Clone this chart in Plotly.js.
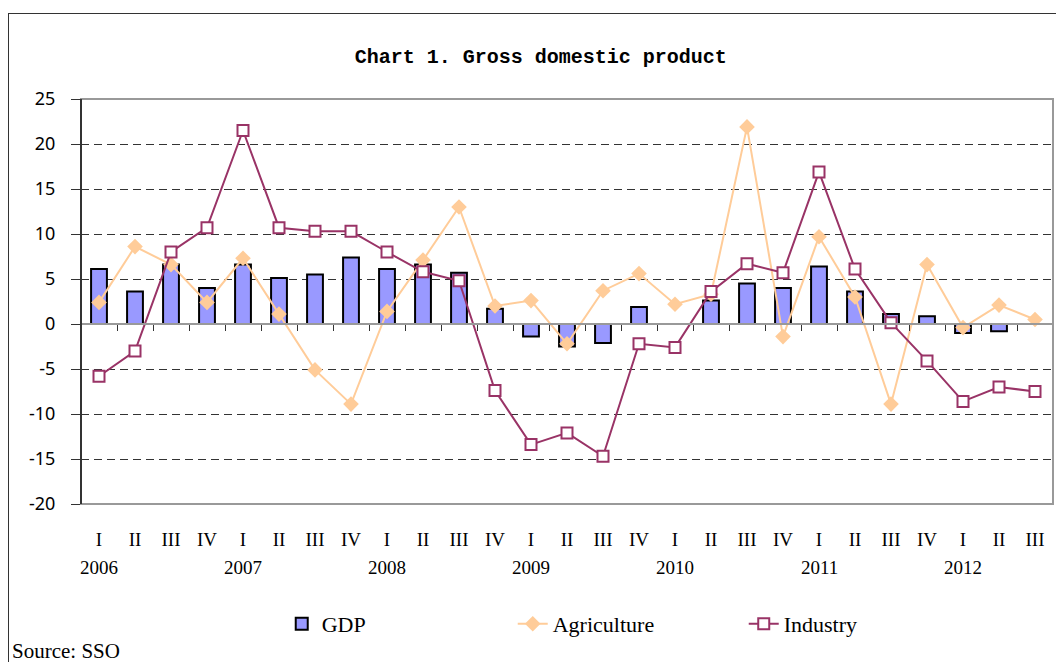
<!DOCTYPE html>
<html>
<head>
<meta charset="utf-8">
<script src="https://cdn.plot.ly/plotly-3.0.1.min.js"></script>
<style>
html,body{margin:0;padding:0;background:#fff;overflow:hidden;}
#chart{position:absolute;left:0;top:0;width:1056px;height:662px;}
#frame{position:absolute;left:8px;top:13px;width:1100px;height:700px;border:1px solid #333;box-sizing:border-box;pointer-events:none;}
</style>
</head>
<body>
<div id="chart"></div>
<div id="frame"></div>
<script>
const quarters = ["I","II","III","IV","I","II","III","IV","I","II","III","IV","I","II","III","IV","I","II","III","IV","I","II","III","IV","I","II","III"];
const years = ["2006","2007","2008","2009","2010","2011","2012"];
const yTickValues = [-20,-15,-10,-5,0,5,10,15,20,25];
const yTickLabels = ["-20","-15","-10","-5","0","5","10","15","20","25"];
const gdp = [6.1,3.6,6.6,4.0,6.6,5.1,5.5,7.4,6.1,6.6,5.7,1.7,-1.4,-2.5,-2.1,1.9,null,2.6,4.5,4.0,6.4,3.6,1.1,0.85,-1.0,-0.8,null];
const agriculture = [2.4,8.6,6.6,2.4,7.3,1.1,-5.1,-8.9,1.4,7.1,13.0,2.0,2.6,-2.2,3.7,5.6,2.2,3.3,21.9,-1.4,9.7,3.0,-8.9,6.6,-0.4,2.1,0.5];
const industry = [-5.8,-3.0,8.0,10.7,21.5,10.7,10.3,10.3,8.0,5.8,4.8,-7.4,-13.4,-12.1,-14.7,-2.2,-2.6,3.6,6.7,5.7,16.9,6.1,0.15,-4.1,-8.6,-7.0,-7.5];

const idx = quarters.map((q,i)=>i);
const yearPos = idx.filter(i=>i%4===0);

const traces = [
  {type:'bar', name:'GDP', x:idx, y:gdp, width:0.44,
   marker:{color:'#9999FF', line:{color:'#000000', width:2}}},
  {type:'scatter', mode:'lines+markers', name:'Agriculture', x:idx, y:agriculture,
   line:{color:'#FFCC99', width:2}, marker:{symbol:'diamond', size:12, color:'#FFCC99'}},
  {type:'scatter', mode:'lines+markers', name:'Industry', x:idx, y:industry, xaxis:'x2',
   line:{color:'#993366', width:2}, marker:{symbol:'square', size:11, color:'#FFFFFF', line:{color:'#993366', width:2}}}
];

const annotations = yearPos.map((p,k)=>({
  x:p, xref:'x', y:-0.158, yref:'paper', text:years[k], showarrow:false,
  xanchor:'center', yanchor:'middle', font:{family:'Liberation Serif', size:19, color:'#000'}
}));
annotations.push({x:-0.073, xref:'paper', y:-0.363, yref:'paper', text:'Source: SSO', showarrow:false,
  xanchor:'left', yanchor:'middle', font:{family:'Liberation Serif', size:21, color:'#000'}});

const layout = {
  width:1056, height:662,
  margin:{l:81, r:3, t:99, b:158},
  paper_bgcolor:'rgba(0,0,0,0)', plot_bgcolor:'#fff',
  title:{text:'<b>Chart 1. Gross domestic product</b>', x:0.512, xref:'container', y:0.915, yref:'container',
    xanchor:'center', yanchor:'middle', font:{family:'Liberation Mono', size:20, color:'#000'}},
  showlegend:true,
  legend:{orientation:'h', x:0.563, xanchor:'center', y:-0.296, yanchor:'middle',
    font:{family:'Liberation Serif', size:22, color:'#000'}, entrywidth:186, bgcolor:'rgba(0,0,0,0)'},
  bargap:0.5,
  xaxis:{range:[-0.5,26.5], tickmode:'array', tickvals:idx, ticktext:quarters, ticks:'', showgrid:false,
    zeroline:false, showline:false, ticklabelstandoff:22,
    tickfont:{family:'Liberation Serif', size:19, color:'#000'}},
  xaxis2:{matches:'x', overlaying:'x', anchor:'free', position:20/45, side:'bottom',
    tickmode:'array', tickvals:idx.slice(0,26).map(i=>i+0.5), ticks:'outside', ticklen:6, tickcolor:'#333', tickwidth:1,
    showticklabels:false, showgrid:false, zeroline:false, showline:true, linecolor:'#999', linewidth:2},
  yaxis:{range:[-20,25], tickmode:'array', tickvals:yTickValues, ticktext:yTickLabels, ticks:'outside', ticklen:9, tickcolor:'#333',
    showline:false, showgrid:true, gridcolor:'#333', gridwidth:1, griddash:'8px,5px',
    zeroline:true, zerolinecolor:'#999', zerolinewidth:2, ticklabelstandoff:12,
    tickfont:{family:'Noto Sans', size:18, color:'#000'}},
  shapes:[
    {type:'rect', xref:'paper', yref:'paper', x0:0, x1:1, y0:0, y1:1, line:{color:'#999', width:2}, layer:'above'},
    {type:'line', xref:'paper', yref:'paper', x0:0, x1:0, y0:0, y1:1, line:{color:'#333', width:2}, layer:'above'}
  ],
  annotations:annotations
};

Plotly.newPlot('chart', traces, layout, {displayModeBar:false, staticPlot:true});
</script>
</body>
</html>
